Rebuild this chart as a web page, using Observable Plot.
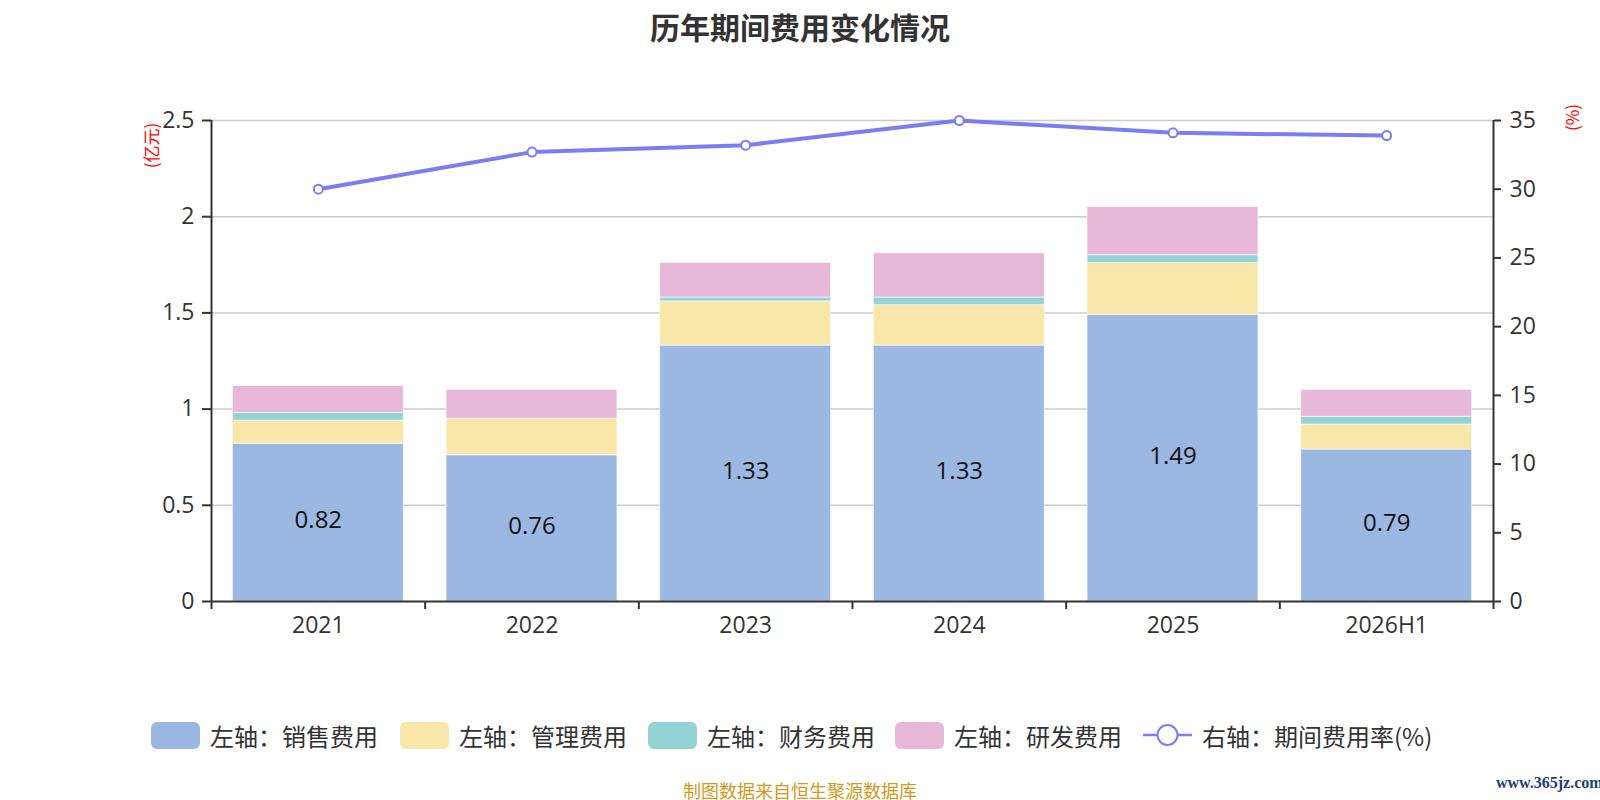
<!DOCTYPE html>
<html>
<head>
<meta charset="utf-8">
<script src="https://cdn.jsdelivr.net/npm/d3@7"></script>
<script src="https://cdn.jsdelivr.net/npm/@observablehq/plot@0.6"></script>
<style>
  html, body { margin: 0; padding: 0; background: #fff; }
  body { width: 1600px; height: 800px; position: relative; overflow: hidden;
         font-family: "Open Sans", "Noto Sans CJK SC", sans-serif; color: #333; }
  #chart { position: absolute; left: 0; top: 0; }
  .abs { position: absolute; white-space: nowrap; }
  #title { left: 0; width: 1600px; top: 4px; text-align: center; font-size: 30px; font-weight: bold;
           color: #333; font-family: "Noto Sans CJK SC", sans-serif; }
  .unit { color: #ff0000; font-size: 17px; font-family: "Noto Sans CJK SC", sans-serif;
          transform: rotate(-90deg); transform-origin: center center; }
  .legitem { position: absolute; top: 721px; height: 28px; display: flex; align-items: center; }
  .sw { width: 49px; height: 27px; border-radius: 6px; margin-right: 10px; }
  .legtxt { font-size: 24px; color: #333; font-family: "Noto Sans CJK SC", sans-serif; }
  #footer { left: 0; width: 1600px; top: 777px; text-align: center; font-size: 18px; color: #d09a22;
            font-family: "Noto Sans CJK SC", sans-serif; }
  #wm { left: 1496px; top: 774px; font-size: 16px; font-weight: bold; color: #1d3f75;
        font-family: "Liberation Serif", serif; }
</style>
</head>
<body>
<div id="title" class="abs">历年期间费用变化情况</div>
<div id="chart"></div>
<div class="abs unit" style="left:128px; top:133px;">(亿元)</div>
<div class="abs unit" style="left:1558px; top:105px;">(%)</div>
<div id="legend"></div>
<div id="footer" class="abs">制图数据来自恒生聚源数据库</div>
<div id="wm" class="abs">www.365jz.com</div>
<script>
// ---- data ----
const categories = ["2021", "2022", "2023", "2024", "2025", "2026H1"];
const sales   = [0.82, 0.76, 1.33, 1.33, 1.49, 0.79];   // 销售费用 (亿元)
const admin   = [0.12, 0.19, 0.23, 0.21, 0.27, 0.13];   // 管理费用
const finance = [0.04, 0.00, 0.02, 0.04, 0.04, 0.04];   // 财务费用
const rnd     = [0.14, 0.15, 0.18, 0.23, 0.25, 0.14];   // 研发费用
const rate    = [30.0, 32.7, 33.2, 35.0, 34.1, 33.9];   // 期间费用率 (%)
const leftTicks  = [0, 0.5, 1, 1.5, 2, 2.5];
const rightTicks = [0, 5, 10, 15, 20, 25, 30, 35];
const seriesNames = ["左轴：销售费用", "左轴：管理费用", "左轴：财务费用", "左轴：研发费用"];
const lineName = "右轴：期间费用率(%)";
const colors = ["#9bb8e2", "#f8e7a9", "#94d3d3", "#e7b8d8"];
const lineColor = "#7a7ef2";

// ---- derived ----
const series = [sales, admin, finance, rnd];
const segs = [];
categories.forEach((c, i) => {
  let base = 0;
  series.forEach((s, k) => {
    segs.push({i, k, y1: base, y2: base + s[i]});
    base += s[i];
  });
});
const kR = 2.5 / 35; // right axis -> left axis units
const rows = categories.map((c, i) => ({i, c, sales: sales[i], rate: rate[i]}));
const bounds = d3.range(categories.length + 1).map(i => i - 0.5);
const idx = d3.range(categories.length);

const plot = Plot.plot({
  width: 1600, height: 800,
  marginTop: 120, marginBottom: 199, marginLeft: 211, marginRight: 107,
  x: {type: "linear", domain: [-0.5, categories.length - 0.5], axis: null, label: null},
  y: {domain: [0, 2.5], axis: null, label: null},
  style: {fontFamily: "'Open Sans', 'Noto Sans CJK SC', sans-serif", color: "#333", background: "transparent", overflow: "visible"},
  marks: [
    Plot.ruleY(leftTicks.filter(d => d > 0), {stroke: "#cccccc", strokeWidth: 1.5}),
    Plot.rect(segs, {
      x1: d => d.i - 0.4, x2: d => d.i + 0.4, y1: "y1", y2: "y2",
      fill: d => colors[d.k], stroke: "#ffffff", strokeOpacity: 0.6, strokeWidth: 1
    }),
    Plot.text(rows, {x: "i", y: d => d.sales / 2 + 0.01, text: d => d.sales.toFixed(2), fontSize: 24, fill: "#111"}),
    Plot.line(rows, {x: "i", y: d => d.rate * kR, stroke: lineColor, strokeWidth: 4}),
    Plot.dot(rows, {x: "i", y: d => d.rate * kR, r: 4.5, fill: "#fff", stroke: lineColor, strokeWidth: 2}),
    // axes
    Plot.axisY(leftTicks, {anchor: "left", label: null, tickSize: 9, tickPadding: 8, fontSize: 23, strokeWidth: 2,
      tickFormat: d => String(d)}),
    Plot.axisY(rightTicks.map(v => v * kR), {anchor: "right", label: null, tickSize: 7, tickPadding: 9, fontSize: 23, strokeWidth: 2,
      tickFormat: d => String(Math.round(d / kR))}),
    Plot.axisX(bounds, {anchor: "bottom", label: null, tickSize: 8, strokeWidth: 2, tickFormat: () => ""}),
    Plot.axisX(idx, {anchor: "bottom", label: null, tickSize: 0, tickPadding: 15, fontSize: 23,
      tickFormat: i => categories[i]}),
    Plot.ruleX([-0.5, categories.length - 0.5], {stroke: "#333", strokeWidth: 2}),
    Plot.ruleY([0], {stroke: "#333", strokeWidth: 2})
  ]
});
document.getElementById("chart").appendChild(plot);

// ---- legend ----
const legend = document.getElementById("legend");
const lefts = [151, 400, 648, 895];
seriesNames.forEach((n, k) => {
  const it = document.createElement("div");
  it.className = "legitem";
  it.style.left = lefts[k] + "px";
  it.innerHTML = `<div class="sw" style="background:${colors[k]}"></div><span class="legtxt">${n}</span>`;
  legend.appendChild(it);
});
const li = document.createElement("div");
li.className = "legitem";
li.style.left = "1143px";
li.innerHTML = `<svg width="49" height="28" style="margin-right:10px"><line x1="0" y1="14" x2="49" y2="14" stroke="${lineColor}" stroke-width="2.5"/><circle cx="24.5" cy="14" r="10" fill="#fff" stroke="${lineColor}" stroke-width="2"/></svg><span class="legtxt">${lineName}</span>`;
legend.appendChild(li);
</script>
</body>
</html>
